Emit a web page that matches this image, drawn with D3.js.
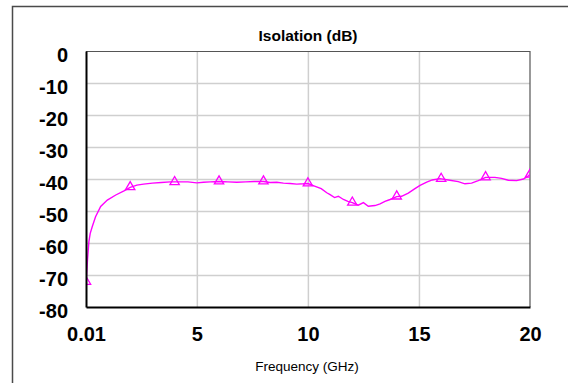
<!DOCTYPE html>
<html>
<head>
<meta charset="utf-8">
<script src="https://cdn.jsdelivr.net/npm/d3@7"></script>
<style>
  html, body { margin: 0; padding: 0; background: #fff; }
  svg { display: block; font-family: "Liberation Sans", Arial, sans-serif; }
</style>
</head>
<body>
<div id="chart"></div>
<script>
// ---- data ----
const freqGHz = [0.01, 0.03, 0.05, 0.08, 0.14, 0.2, 0.29, 0.44, 0.67, 0.97, 1.35, 1.72, 2.0,
  2.3, 2.6, 3.0, 3.4, 3.8, 4.2, 4.6, 5.0, 5.3, 5.6, 6.0, 6.4, 6.8, 7.2, 7.6, 8.0,
  8.3, 8.6, 8.9, 9.2, 9.5, 9.8, 10.0, 10.3, 10.6, 10.85, 11.0, 11.2, 11.37, 11.6, 11.8,
  12.0, 12.27, 12.5, 12.72, 13.02, 13.25, 13.47, 13.7, 14.0, 14.22, 14.52, 14.82, 15.05,
  15.35, 15.6, 15.95, 16.32, 16.77, 17.07, 17.37, 17.67, 18.0, 18.42, 18.72, 19.02, 19.4,
  19.7, 19.9, 20.0];
const isolationDb = [-72.1, -70.5, -68.5, -65.0, -59.6, -57.0, -54.9, -51.8, -48.6, -46.6, -45.0, -43.7, -42.6,
  -41.9, -41.6, -41.3, -41.1, -40.9, -40.9, -40.9, -41.2, -41.0, -40.9, -40.8, -40.9, -41.0, -40.9, -40.8, -40.8,
  -41.1, -41.0, -41.3, -41.4, -41.6, -41.5, -41.4, -42.2, -43.0, -44.3, -44.9, -45.8, -45.4, -46.4, -47.0,
  -47.4, -48.2, -47.4, -48.5, -48.3, -47.8, -47.0, -46.4, -45.5, -45.4, -44.4, -43.0, -42.0,
  -41.0, -40.3, -39.9, -40.3, -40.8, -41.5, -41.3, -40.5, -39.5, -39.5, -39.8, -40.4, -40.5,
  -40.0, -39.2, -38.5];
const markerFreq = [0.01, 2, 4, 6, 8, 10, 12, 14, 16, 18, 20];
const markerDb = [-72.1, -42.5, -40.9, -40.7, -40.7, -41.3, -47.3, -45.4, -39.9, -39.4, -38.6];
const xTickValues = [0.01, 5, 10, 15, 20];
const xTickLabels = ["0.01", "5", "10", "15", "20"];
const yTickValues = [0, -10, -20, -30, -40, -50, -60, -70, -80];
const yTickLabels = ["0", "-10", "-20", "-30", "-40", "-50", "-60", "-70", "-80"];
const titleText = "Isolation (dB)";
const xLabelText = "Frequency (GHz)";

// ---- layout ----
const W = 568, H = 383;
const m = { left: 86, top: 51, right: 38, bottom: 76 };
const pw = W - m.left - m.right;   // 444
const ph = H - m.top - m.bottom;   // 256

const svg = d3.select("#chart").append("svg").attr("width", W).attr("height", H);

// outer frame (extends past right/bottom edges)
svg.append("rect").attr("x", 12.5).attr("y", 6.5).attr("width", 700).attr("height", 500)
  .attr("fill", "none").attr("stroke", "#4a4a4a").attr("stroke-width", 1.5);

const x = d3.scaleLinear().domain([0.01, 20]).range([0, pw]);
const y = d3.scaleLinear().domain([-80, 0]).range([ph, 0]);

const g = svg.append("g").attr("transform", `translate(${m.left},${m.top})`);

// gridlines
const gx = g.append("g").attr("transform", `translate(0,${ph})`)
  .call(d3.axisBottom(x).tickValues([5, 10, 15]).tickSize(-ph).tickFormat(""));
gx.select(".domain").remove();
gx.selectAll("line").attr("stroke", "#cfcfcf").attr("stroke-width", 1.5);
const gy = g.append("g")
  .call(d3.axisLeft(y).tickValues([-10, -20, -30, -40, -50, -60, -70]).tickSize(-pw).tickFormat(""));
gy.select(".domain").remove();
gy.selectAll("line").attr("stroke", "#cfcfcf").attr("stroke-width", 1.5);

// plot border: top/right gray
g.append("path").attr("d", `M0,0.5H${pw}V${ph}`)
  .attr("fill", "none").attr("stroke", "#555").attr("stroke-width", 1.2);

// clip
g.append("clipPath").attr("id", "clip").append("rect")
  .attr("x", 0).attr("y", 0).attr("width", pw).attr("height", ph);

const pts = freqGHz.map((f, i) => [f, isolationDb[i]]);
const line = d3.line().x(d => x(d[0])).y(d => y(d[1]));
const plot = g.append("g").attr("clip-path", "url(#clip)");
plot.append("path").datum(pts).attr("d", line)
  .attr("fill", "none").attr("stroke", "#ff00ff").attr("stroke-width", 1.4);

const tri = d3.symbol().type(d3.symbolTriangle).size(38);
plot.selectAll(".mk").data(markerFreq.map((f, i) => [f, markerDb[i]])).enter()
  .append("path").attr("d", tri)
  .attr("transform", d => `translate(${x(d[0])},${y(d[1])})`)
  .attr("fill", "none").attr("stroke", "#ff00ff").attr("stroke-width", 1.3);

// axes
const ax = g.append("g").attr("transform", `translate(0,${ph})`)
  .call(d3.axisBottom(x).tickValues(xTickValues).tickSize(0).tickPadding(20)
    .tickFormat((d, i) => xTickLabels[i]));
ax.select(".domain").attr("stroke", "#000").attr("stroke-width", 2);
ax.selectAll("text").attr("font-size", 20).attr("font-weight", "bold").attr("fill", "#000")
  .attr("font-family", "Liberation Sans, Arial, sans-serif");

const ay = g.append("g")
  .call(d3.axisLeft(y).tickValues(yTickValues).tickSize(0).tickPadding(18)
    .tickFormat((d, i) => yTickLabels[i]));
ay.select(".domain").attr("stroke", "#000").attr("stroke-width", 2);
ay.selectAll("text").attr("font-size", 20).attr("font-weight", "bold").attr("fill", "#000")
  .attr("dy", "0.5em").attr("font-family", "Liberation Sans, Arial, sans-serif");

// title and axis label
svg.append("text").attr("x", m.left + pw / 2).attr("y", 41).attr("text-anchor", "middle")
  .attr("font-size", 15.5).attr("font-weight", "bold").attr("fill", "#000").text(titleText);
svg.append("text").attr("x", m.left + pw / 2 - 1).attr("y", 371).attr("text-anchor", "middle")
  .attr("font-size", 13.5).attr("fill", "#000").text(xLabelText);
</script>
</body>
</html>
